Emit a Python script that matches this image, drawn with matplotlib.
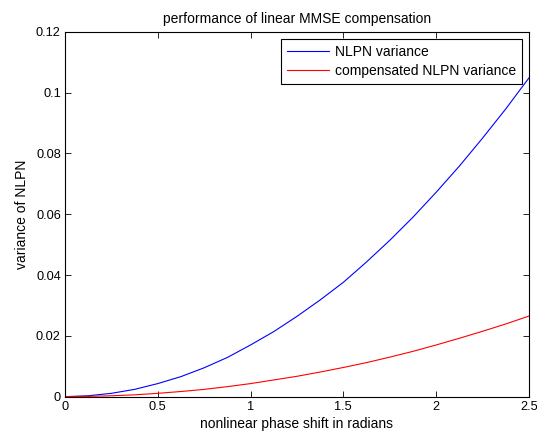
import matplotlib
matplotlib.use("Agg")
import matplotlib.pyplot as plt

x = [0, 0.125, 0.25, 0.375, 0.5, 0.625, 0.75, 0.875, 1.0, 1.125, 1.25,
     1.375, 1.5, 1.625, 1.75, 1.875, 2.0, 2.125, 2.25, 2.375, 2.5]
nlpn_var = [0, 0.0003, 0.0011, 0.0024, 0.0043, 0.0066, 0.0095, 0.0129, 0.0170,
            0.0214, 0.0264, 0.0318, 0.0376, 0.0443, 0.0514, 0.0590, 0.0672,
            0.0758, 0.0850, 0.0946, 0.1048]
comp_var = [0, 0.0001, 0.0003, 0.0006, 0.0011, 0.0017, 0.0024, 0.0033, 0.0043,
            0.0055, 0.0067, 0.0081, 0.0096, 0.0112, 0.0130, 0.0149, 0.0170,
            0.0192, 0.0215, 0.0239, 0.0265]
xticks = [0, 0.5, 1, 1.5, 2, 2.5]
xticklabels = ["0", "0.5", "1", "1.5", "2", "2.5"]
yticks = [0, 0.02, 0.04, 0.06, 0.08, 0.1, 0.12]
yticklabels = ["0", "0.02", "0.04", "0.06", "0.08", "0.1", "0.12"]

plt.rcParams['font.family'] = ['Liberation Sans', 'DejaVu Sans']
fig = plt.figure(figsize=(5.37, 4.34), dpi=100)
ax = fig.add_axes([0.121, 0.086, 0.864, 0.841])
ax.plot(x, nlpn_var, color='#0000ff', lw=0.8, label='NLPN variance')
ax.plot(x, comp_var, color='#ff0000', lw=0.8, label='compensated NLPN variance')
ax.set_xlim(0, 2.5)
ax.set_ylim(0, 0.12)
ax.set_xticks(xticks)
ax.set_xticklabels(xticklabels)
ax.set_yticks(yticks)
ax.set_yticklabels(yticklabels)
ax.tick_params(direction='in', top=True, right=True, labelsize=9.2, length=4, width=0.6, pad=3)
for s in ax.spines.values():
    s.set_linewidth(0.8)
ax.set_title('performance of linear MMSE compensation', fontsize=10, pad=6)
ax.set_xlabel('nonlinear phase shift in radians', fontsize=10, labelpad=3)
ax.set_ylabel('variance of NLPN', fontsize=10, labelpad=5)
leg = ax.legend(loc='upper right', bbox_to_anchor=(0.985, 0.98), borderaxespad=0,
                fontsize=10, fancybox=False, framealpha=1, edgecolor='black',
                handlelength=3.0, handletextpad=0.4, borderpad=0.45, labelspacing=0.35)
leg.get_frame().set_linewidth(0.8)
fig.savefig('out.png', dpi=100)
